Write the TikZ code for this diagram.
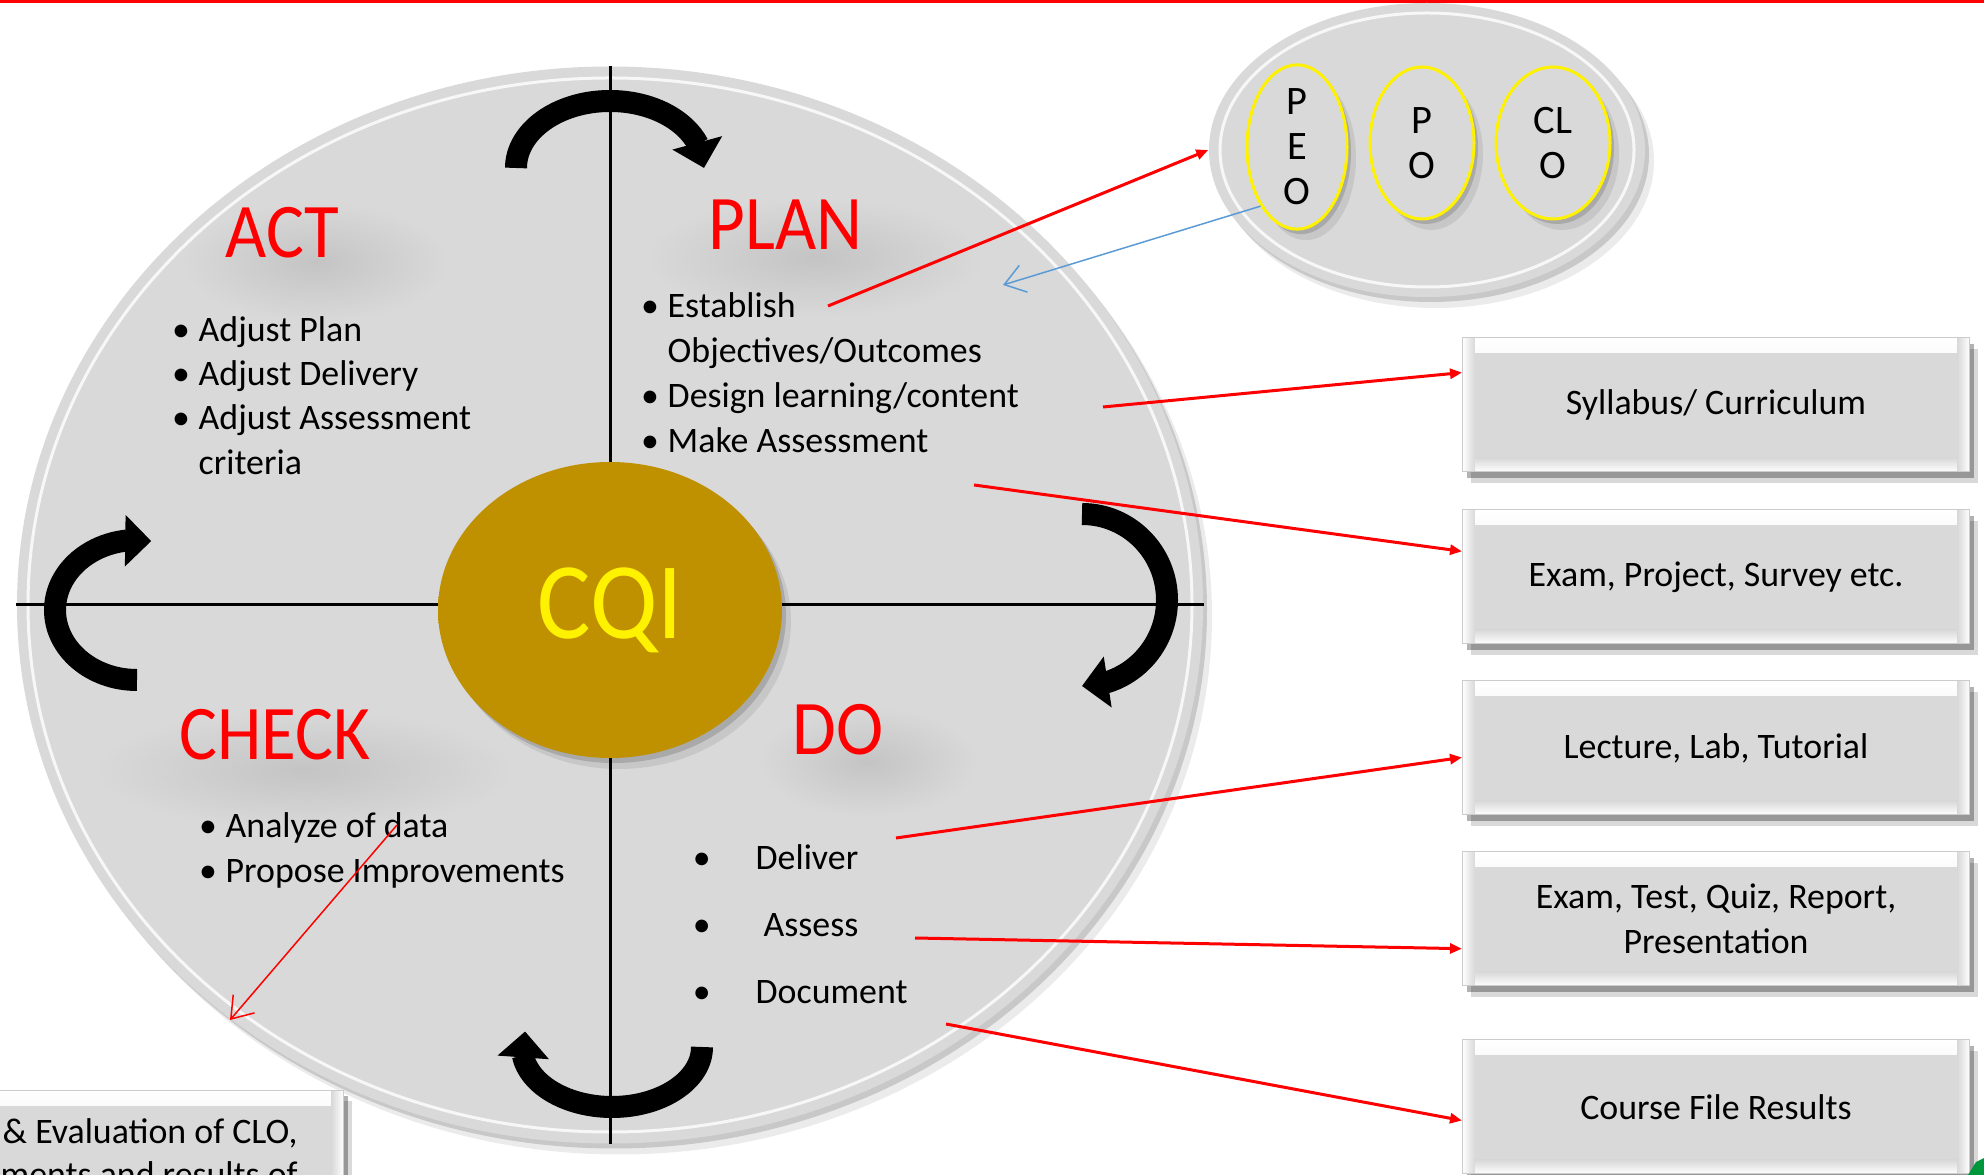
\documentclass[tikz,border=0pt]{standalone}
\usepackage{fontspec}
\setmainfont{Carlito}
\newfontfamily\titlefont[FakeStretch=0.92]{Carlito}
\usetikzlibrary{arrows.meta, bending, positioning, calc, shapes.geometric, shadows}
\definecolor{boxgray}{RGB}{217,217,217}
\definecolor{shadowgray}{RGB}{196,196,196}
\definecolor{cqigold}{RGB}{191,144,0}
\definecolor{rimgold}{RGB}{255,200,0}
\definecolor{linkblue}{RGB}{91,155,213}
\definecolor{logogreen}{RGB}{0,150,60}
\pgfdeclareradialshading{rimglow}{\pgfpoint{0bp}{0bp}}{color(0bp)=(boxgray); color(30bp)=(boxgray); color(42bp)=(white); color(50bp)=(white)}
\pgfdeclareradialshading{cqirim}{\pgfpoint{0bp}{0bp}}{color(0bp)=(cqigold); color(44bp)=(cqigold); color(46.5bp)=(rimgold); color(50bp)=(yellow)}
\tikzset{
  softshadow/.style={drop shadow={shadow xshift=.4mm, shadow yshift=-.5mm, opacity=.15, fill=black},
                     drop shadow={shadow xshift=.9mm, shadow yshift=-1.1mm, opacity=.08, fill=black}},
  boxshadow/.style={drop shadow={shadow xshift=.4mm, shadow yshift=-.6mm, opacity=.3, fill=black},
                    drop shadow={shadow xshift=.8mm, shadow yshift=-1.1mm, opacity=.15, fill=black}},
  quadtitle/.style={text=red, font=\titlefont\fontsize{22}{26}\selectfont, inner sep=0, anchor=base west},
  bullettext/.style={font=\fontsize{10.2}{12.7}\selectfont, inner sep=0, anchor=base west},
  resbox/.style={rectangle, fill=boxgray, draw=black!20, line width=.1mm, minimum width=50.7mm,
                 minimum height=13.4mm, inner sep=0, align=center, font=\fontsize{10.2}{12.7}\selectfont, boxshadow,
                 path picture={
                   \shade[top color=white, bottom color=boxgray] (path picture bounding box.north west)
                       rectangle ([yshift=-1.5mm]path picture bounding box.north east);
                   \shade[top color=boxgray, bottom color=white] ([yshift=1.4mm]path picture bounding box.south west)
                       rectangle (path picture bounding box.south east);
                   \shade[left color=white, right color=boxgray] (path picture bounding box.north west)
                       rectangle ([xshift=1.2mm]path picture bounding box.south west);
                   \shade[left color=boxgray, right color=white] ([xshift=-1.2mm]path picture bounding box.north east)
                       rectangle (path picture bounding box.south east);
                 }},
  outcome/.style={ellipse, shade, shading=rimglow, draw=yellow, line width=.3mm, inner sep=0, align=center,
                  font=\fontsize{11.5}{12.8}\selectfont, softshadow},
  cyclearrow/.style={line width=2.2mm, -{Triangle[length=2.6mm, width=5mm]}},
  link/.style={red, line width=.3mm, -{Triangle[length=1.2mm, width=1mm]}},
  thinlink/.style={line width=.15mm, -{Straight Barb[length=2mm, width=2.8mm]}}
}

\begin{document}
\begin{tikzpicture}[x=0.1mm, y=0.1mm]
    \useasboundingbox (0,0) rectangle (1984,-1175);
    \clip (0,0) rectangle (1984,-1175);

    % red rule on top
    \draw[red, line width=.35mm] (0,-1) -- (1984,-1);

    % the big plate
    \node[ellipse, fill=boxgray, minimum width=118.6mm, minimum height=107.7mm, inner sep=0, softshadow] (plate) at (610,-605) {};

    % soft shadows under the titles
    \shade[inner color=shadowgray, outer color=boxgray] (315,-262) ellipse[x radius=134, y radius=60];
    \shade[inner color=shadowgray, outer color=boxgray] (815,-258) ellipse[x radius=170, y radius=60];
    \shade[inner color=shadowgray, outer color=boxgray] (305,-770) ellipse[x radius=210, y radius=60];
    \shade[inner color=shadowgray, outer color=boxgray] (868,-762) ellipse[x radius=110, y radius=55];

    \draw[white, line width=.3mm, opacity=.8] (plate.center) ellipse[x radius=582, y radius=527];

    % cross
    \draw[line width=.3mm] (plate.north) -- (plate.south);
    \draw[line width=.3mm] (plate.west) -- (plate.east);

    % cycle arrows
    \draw[cyclearrow] (516,-168) arc[start angle=180, end angle=0, x radius=94, y radius=67];
    \draw[cyclearrow] (1082,-514) arc[start angle=90, end angle=-90, x radius=85, y radius=86];
    \draw[cyclearrow] (702,-1047) arc[start angle=0, end angle=-195, x radius=90, y radius=60];
    \draw[cyclearrow] (137,-680) arc[start angle=270, end angle=80, x radius=82, y radius=70];

    % centre
    \node[ellipse, shade, shading=cqirim, minimum width=34.4mm, minimum height=29.6mm, inner sep=0, softshadow,
          text=yellow, font=\titlefont\fontsize{31}{36}\selectfont] (cqi) at (610,-610) {CQI};

    % titles
    \node[quadtitle] (act) at (225,-258) {ACT};
    \node[quadtitle] (plan) at (708,-250) {PLAN};
    \node[quadtitle] (check) at (179,-760) {CHECK};
    \node[quadtitle] (do) at (792,-755) {DO};

    % ACT items
    \foreach \yy/\txt [count=\i] in {342/Adjust Plan, 386/Adjust Delivery, 430/Adjust Assessment}
        \node[bullettext] (act\i) at (198,-\yy) {\llap{\textbullet\hspace{2.5pt}}\txt};
    \node[bullettext] (act4) at (198,-475) {criteria};

    % PLAN items
    \foreach \yy/\txt [count=\i] in {318/Establish, 408/{Design learning/content}, 453/Make Assessment}
        \node[bullettext] (plan\i) at (667,-\yy) {\llap{\textbullet\hspace{2.5pt}}\txt};
    \node[bullettext] (plan4) at (667,-363) {Objectives/Outcomes};

    % CHECK items
    \foreach \yy/\txt [count=\i] in {838/Analyze of data, 883/Propose Improvements}
        \node[bullettext] (check\i) at (225,-\yy) {\llap{\textbullet\hspace{2.5pt}}\txt};

    % DO items
    \node[bullettext] (do1) at (755,-870) {\llap{\textbullet\hspace{12.8pt}}Deliver};
    \node[bullettext] (do2) at (763,-937) {\llap{\textbullet\hspace{15.1pt}}Assess};
    \node[bullettext] (do3) at (755,-1004) {\llap{\textbullet\hspace{12.8pt}}Document};

    % outcome oval
    \node[ellipse, fill=boxgray, minimum width=43.6mm, minimum height=29.4mm, inner sep=0, softshadow] (ovl) at (1427,-150) {};
    \draw[white, line width=.3mm, opacity=.8] (ovl.center) ellipse[x radius=207, y radius=137];
    \node[outcome, minimum width=10mm, minimum height=16mm] (peo) at (1297,-147) {P\\E\\O};
    \node[outcome, minimum width=10.4mm, minimum height=15.2mm] (po) at (1422,-143) {P\\O};
    \node[outcome, minimum width=11.4mm, minimum height=15.2mm] (clo) at (1553,-143) {CL\\O};

    % result boxes
    \node[resbox] (syl) at (1716,-405) {Syllabus/ Curriculum};
    \node[resbox] (exams) at (1716,-577) {Exam, Project, Survey etc.};
    \node[resbox] (lecture) at (1716,-748) {Lecture, Lab, Tutorial};
    \node[resbox] (tests) at (1716,-919) {Exam, Test, Quiz, Report,\\Presentation};
    \node[resbox] (coursefile) at (1716,-1107) {Course File Results};

    % cut box at the bottom left
    \node[resbox] (evalbox) at (90,-1157) {};
    \node[bullettext] (eval1) at (2,-1143) {\& Evaluation of CLO,};
    \node[bullettext] (eval2) at (0,-1187) {ments and results of};

    % links
    \coordinate (estab) at (828,-306);
    \coordinate (peohit) at (1003,-285);
    \coordinate (design) at (1103,-407);
    \coordinate (make) at (974,-485);
    \coordinate (deliver) at (896,-838);
    \coordinate (assess) at (915,-938);
    \coordinate (document) at (946,-1024);
    \coordinate (analyze) at (397,-825);
    \coordinate (rim) at (230,-1020);

    \draw[link] (estab) -- (ovl.west);
    \draw[thinlink, linkblue] (peo.south west) -- (peohit);
    \draw[link] (design) -- ($(syl.north west)!.26!(syl.south west)$);
    \draw[link] (make) -- ($(exams.north west)!.31!(exams.south west)$);
    \draw[link] (deliver) -- ($(lecture.north west)!.57!(lecture.south west)$);
    \draw[link] (assess) -- ($(tests.north west)!.72!(tests.south west)$);
    \draw[link] (document) -- ($(coursefile.north west)!.6!(coursefile.south west)$);
    \draw[thinlink, red] (analyze) -- (rim);

    % corner of a logo
    \fill[logogreen] (1968,-1175) -- (1976,-1162) -- (1984,-1158) -- (1984,-1175) -- cycle;
\end{tikzpicture}
\end{document}
